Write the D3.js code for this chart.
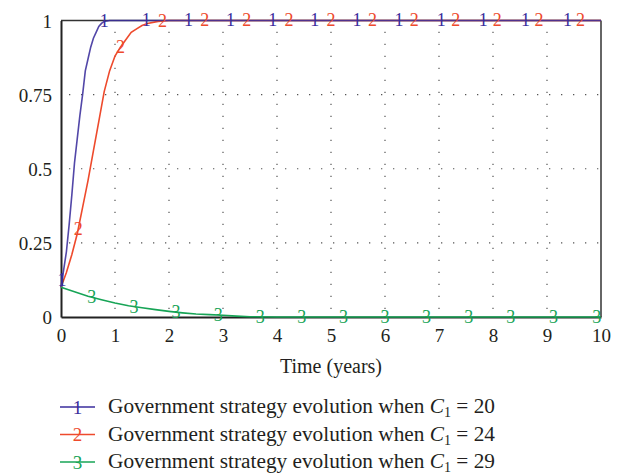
<!DOCTYPE html>
<html><head><meta charset="utf-8">
<script src="https://cdn.jsdelivr.net/npm/d3@7"></script>
<style>html,body{margin:0;padding:0;background:#fff;}svg{display:block;}</style>
</head><body>
<svg id="chart" width="621" height="476"></svg>
<script>
// ---- data ----
const xTicks = [0,1,2,3,4,5,6,7,8,9,10];
const yTicks = [0,0.25,0.5,0.75,1];
const yTickLabels = ["0","0.25","0.5","0.75","1"];

const time1 = [0,0.05,0.1,0.15,0.2,0.25,0.3,0.35,0.4,0.45,0.5,0.55,0.6,0.65,0.7,0.75,0.8,0.9,10];
const gov20 = [0.1,0.16,0.22,0.31,0.41,0.52,0.6,0.68,0.75,0.83,0.87,0.91,0.94,0.96,0.98,0.99,0.997,1,1];

const time2 = [0,0.1,0.2,0.3,0.4,0.5,0.6,0.7,0.8,0.9,1.0,1.1,1.2,1.3,1.4,1.5,1.6,1.8,2.0,10];
const gov24 = [0.1,0.15,0.21,0.28,0.37,0.46,0.56,0.66,0.76,0.83,0.88,0.91,0.935,0.96,0.972,0.983,0.99,0.997,1,1];

const time3 = [0,0.25,0.5,0.75,1,1.25,1.5,1.75,2,2.25,2.5,2.75,3,3.25,3.5,4,10];
const gov29 = [0.1,0.085,0.07,0.058,0.047,0.038,0.031,0.025,0.019,0.014,0.01,0.008,0.006,0.003,0.001,0,0];

const markers1 = [0.02,0.8,1.58,2.36,3.14,3.92,4.7,5.48,6.26,7.04,7.82,8.6,9.38];
const markers2 = [0.32,1.1,1.88,2.66,3.44,4.22,5.0,5.77,6.54,7.31,8.08,8.85,9.62];
const markers3 = [0.57,1.35,2.13,2.91,3.69,4.46,5.23,6.0,6.77,7.55,8.33,9.12,9.92];

const legendValues = ["20","24","29"];
const legendPrefix = "Government strategy evolution when ";

const series = [
  {t:time2, v:gov24, m:markers2, color:"#ee4a2c", key:"2", op:1},
  {t:time1, v:gov20, m:markers1, color:"#3a2d9c", key:"1", op:0.88},
  {t:time3, v:gov29, m:markers3, color:"#17a456", key:"3", op:1}
];
const legendOrder = [
  {key:"1", color:"#3a2d9c"},
  {key:"2", color:"#ee4a2c"},
  {key:"3", color:"#17a456"}
];

// ---- layout ----
const svg = d3.select("#chart");
const font = "'Liberation Serif','DejaVu Serif',serif";
const x = d3.scaleLinear().domain([0,10]).range([61,601]);
const y = d3.scaleLinear().domain([0,1]).range([317,20.5]);

// grid
const g = svg.append("g");
g.selectAll(".vg").data(xTicks.slice(1,-1)).enter().append("line")
  .attr("x1",d=>x(d)).attr("x2",d=>x(d)).attr("y1",y(0)).attr("y2",y(1))
  .attr("stroke","#555").attr("stroke-width",1.2).attr("stroke-dasharray","1.3 10.7")
  .attr("stroke-dashoffset",-8);
g.selectAll(".hg").data(yTicks.slice(1,-1)).enter().append("line")
  .attr("x1",x(0)).attr("x2",x(10)).attr("y1",d=>y(d)).attr("y2",d=>y(d))
  .attr("stroke","#555").attr("stroke-width",1.2).attr("stroke-dasharray","1.3 10.7")
  .attr("stroke-dashoffset",-8);

// frame
svg.append("line").attr("x1",x(10)).attr("x2",x(10)).attr("y1",y(1)).attr("y2",y(0))
  .attr("stroke","#666").attr("stroke-width",2);
svg.append("line").attr("x1",x(0)).attr("x2",x(10)).attr("y1",y(1)).attr("y2",y(1))
  .attr("stroke","#333").attr("stroke-width",1.5);

// axes
const xAxis = d3.axisBottom(x).tickValues(xTicks).tickSize(0).tickPadding(0).tickFormat(d3.format("d"));
const xa = svg.append("g").attr("transform",`translate(0,${y(0)})`).call(xAxis);
xa.select(".domain").attr("stroke","#222").attr("stroke-width",2);
xa.selectAll("text").attr("font-family",font).attr("font-size",19).attr("fill","#231f20")
  .attr("dy",null).attr("y",25);

const yAxis = d3.axisLeft(y).tickValues(yTicks).tickSize(0).tickPadding(0)
  .tickFormat((d,i)=>yTickLabels[i]);
const ya = svg.append("g").attr("transform",`translate(${x(0)},0)`).call(yAxis);
ya.select(".domain").attr("stroke","#222").attr("stroke-width",2);
ya.selectAll("text").attr("font-family",font).attr("font-size",19).attr("fill","#231f20")
  .attr("x",-9).attr("dy","0.35em");

// lines
const line = d3.line().x(d=>x(d[0])).y(d=>y(d[1]));
function interp(ts, vs, t){
  const i = Math.max(1, d3.bisectLeft(ts, t));
  const t0=ts[i-1], t1=ts[i], f=(t-t0)/(t1-t0);
  return vs[i-1]+(vs[i]-vs[i-1])*f;
}
series.forEach(s=>{
  const pts = s.t.map((t,i)=>[t,s.v[i]]);
  svg.append("path").datum(pts).attr("d",line).attr("fill","none")
    .attr("stroke",s.color).attr("stroke-width",1.6).attr("stroke-opacity",s.op);
});
series.forEach(s=>{
  svg.append("g").selectAll("text").data(s.m).enter().append("text")
    .attr("x",d=>x(d)).attr("y",d=>y(interp(s.t,s.v,d)))
    .attr("text-anchor","middle").attr("dy","0.33em")
    .attr("font-family",font).attr("font-size",18).attr("fill",s.color)
    .text(s.key);
});

// x title
svg.append("text").attr("x",(x(0)+x(10))/2).attr("y",373).attr("text-anchor","middle")
  .attr("font-family",font).attr("font-size",20).attr("fill","#231f20").text("Time (years)");

// legend
const lg = svg.append("g");
legendOrder.forEach((l,i)=>{
  const yy = 407 + i*27.5;
  lg.append("line").attr("x1",60).attr("x2",95).attr("y1",yy).attr("y2",yy)
    .attr("stroke",l.color).attr("stroke-width",1.6);
  lg.append("text").attr("x",77.5).attr("y",yy).attr("dy","0.35em").attr("text-anchor","middle")
    .attr("font-family",font).attr("font-size",19).attr("fill",l.color).text(l.key);
  const t = lg.append("text").attr("x",108).attr("y",yy+6)
    .attr("font-family",font).attr("font-size",21.3).attr("fill","#231f20");
  t.append("tspan").text(legendPrefix);
  t.append("tspan").attr("font-style","italic").text("C");
  t.append("tspan").attr("font-size",14).attr("dy",4).text("1");
  t.append("tspan").attr("dy",-4).text(" = " + legendValues[i]);
});
</script>
</body></html>
